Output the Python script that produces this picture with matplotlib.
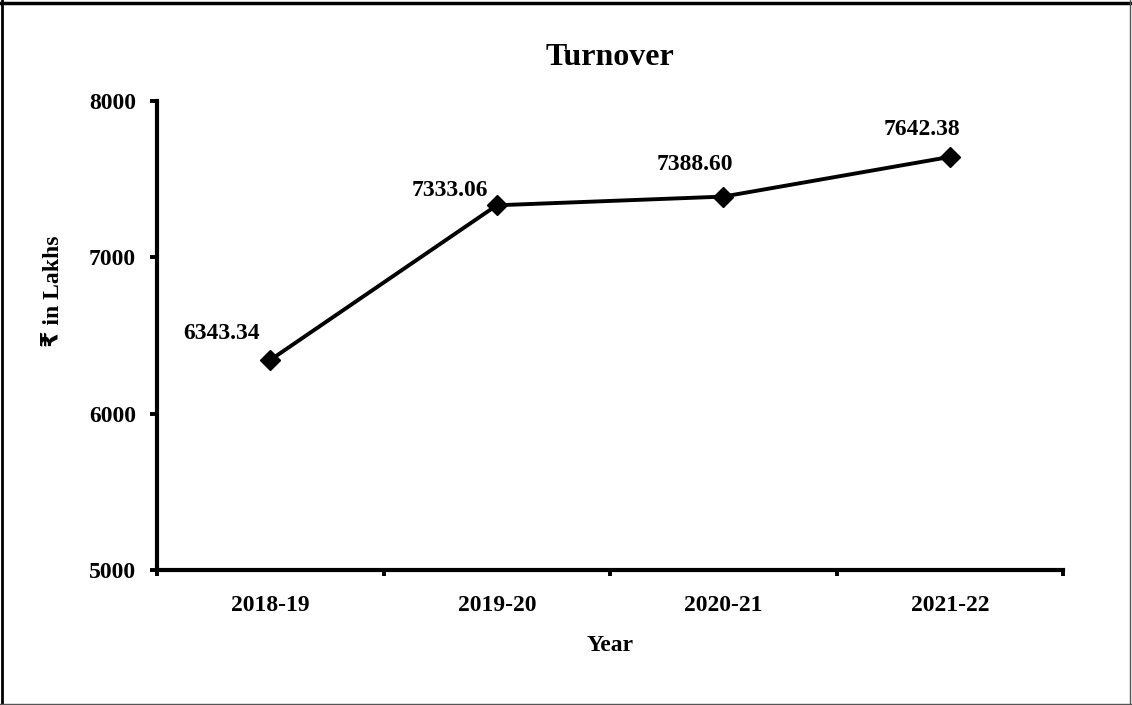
import matplotlib
matplotlib.use("Agg")
import matplotlib.pyplot as plt
from matplotlib.lines import Line2D

years = ["2018-19", "2019-20", "2020-21", "2021-22"]
turnover = [6343.34, 7333.06, 7388.60, 7642.38]
label_offsets = [(-49, 26), (-47, 15), (-28, 32), (-28, 27)]

plt.rcParams["font.family"] = ["Liberation Serif", "DejaVu Sans"]
plt.rcParams["font.weight"] = "bold"

fig = plt.figure(figsize=(11.32, 7.05), dpi=100)
ax = fig.add_axes([0.1387, 0.1915, 0.8004, 0.6652])

x = list(range(len(years)))
ax.plot(x, turnover, color="black", lw=2.8, marker="D", markersize=10, zorder=3)

for xi, val, (dx, dy) in zip(x, turnover, label_offsets):
    ax.annotate(f"{val:.2f}", (xi, val), xytext=(dx, dy), textcoords="offset pixels",
                ha="center", va="center", fontsize=17, fontweight="bold")

ax.set_xlim(-0.5, len(years) - 0.5)
ax.set_ylim(5000, 8000)
ax.set_yticks([5000, 6000, 7000, 8000])
ax.set_xticks(x)
ax.set_xticklabels(years)
ax.set_xticks([i - 0.5 for i in range(len(years) + 1)], minor=True)
ax.tick_params(axis="x", which="major", length=0, pad=18, labelsize=17)
ax.tick_params(axis="x", which="minor", length=4, width=2.8, direction="out")
ax.tick_params(axis="y", length=5, width=2.8, direction="out", labelsize=17, pad=10)

for s in ["top", "right"]:
    ax.spines[s].set_visible(False)
for s in ["left", "bottom"]:
    ax.spines[s].set_linewidth(3)

ax.set_title("Turnover", fontsize=23, fontweight="bold", pad=26)
ax.set_xlabel("Year", fontsize=17, fontweight="bold", labelpad=14)
ax.set_ylabel("₹ in Lakhs", fontsize=17, fontweight="bold")
ax.yaxis.set_label_coords(-0.103, 0.595)

# frame around the whole picture: heavy top/left, thin grey right/bottom
tf = fig.transFigure
fig.lines.append(Line2D([0.0, 1.0], [0.996, 0.996], transform=tf, color="black", lw=2.5))
fig.lines.append(Line2D([0.002, 0.002], [0.0, 1.0], transform=tf, color="black", lw=2.0))
fig.lines.append(Line2D([0.9985, 0.9985], [0.0, 1.0], transform=tf, color="#555555", lw=1.0))
fig.lines.append(Line2D([0.0, 1.0], [0.0015, 0.0015], transform=tf, color="#555555", lw=1.0))

fig.savefig("out.png", dpi=100)
